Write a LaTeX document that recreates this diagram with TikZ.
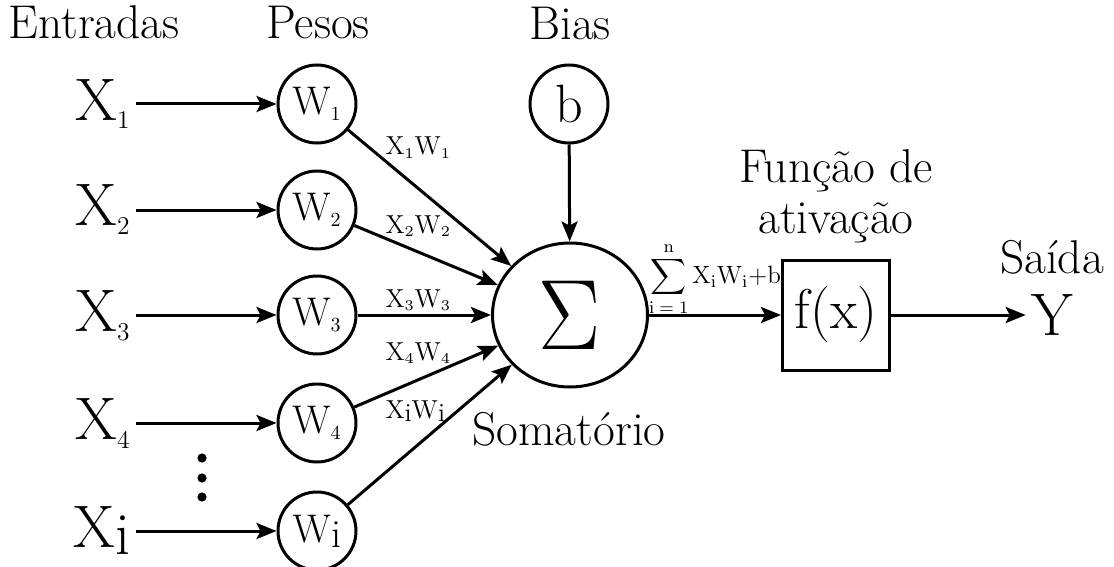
\RequirePackage{fix-cm}
\documentclass[tikz,border=0pt]{standalone}
\usepackage{amsmath,amssymb}
\usepackage{graphicx}
\usepackage{tikz}
\usetikzlibrary{arrows.meta,shapes.geometric}

% indice: i quase do tamanho normal, numeros bem pequenos
\newcommand{\ind}[2]{\if i#2\mbox{\raisebox{-0.12em}{i}}\else_{\scalebox{#1}{$\scriptscriptstyle#2$}}\fi}

\begin{document}
\begin{tikzpicture}[x=0.5pt,y=-0.5pt,line width=1.5pt,
  seta/.style={-{Stealth[length=10pt,width=8pt,inset=2pt]}},
  peso/.style={draw,circle,minimum size=39pt,inner sep=0pt,font=\fontsize{20}{22}\selectfont},
  titulo/.style={font=\fontsize{23.7}{25}\selectfont,anchor=base},
  entrada/.style={font=\fontsize{30}{32}\selectfont,anchor=base east,inner sep=2pt},
  prod/.style={font=\fontsize{13}{15}\selectfont,anchor=base west,inner sep=0pt}]
  \useasboundingbox (0,0) rectangle (1114,567);

  % titulos
  \node[titulo] (ent) at (94,39) {Entradas};
  \node[titulo] (pes) at (318,39) {Pesos};
  \node[titulo] (bia) at (570,40) {Bias};
  \node[titulo,align=center] (fun) at (836,233) {Função de\\ativação};
  \node[titulo] (sai) at (1052,273) {Saída};
  \node[titulo] (som) at (569,445) {Somatório};

  % somatorio, bias, ativacao e saida
  \node[draw,ellipse,minimum width=77.5pt,minimum height=72pt,inner sep=0pt] (soma) at (570,315)
    {\scalebox{0.93}[1]{\fontsize{50}{52}\selectfont$\Sigma$}};
  \node[draw,circle,minimum size=39pt,inner sep=0pt,font=\fontsize{27}{30}\selectfont] (bias) at (569,104) {b};
  \node[draw,minimum width=53.5pt,minimum height=55pt,font=\fontsize{28}{30}\selectfont] (ativ) at (836,315) {f(x)};
  \node[font=\fontsize{30}{32}\selectfont,inner sep=2pt] (saida) at (1052,315) {Y};
  \node[font=\fontsize{12.5}{14}\selectfont] (form) at (715,279)
    {$\displaystyle\sum_{\mathrm{i}\;=\;1}^{\mathrm{n}}\mathrm{X}_{\mathrm{i}}\mathrm{W}_{\mathrm{i}}{+}\mathrm{b}$};

  % entradas e pesos
  \foreach \n/\y in {1/104, 2/210, 3/315, 4/423, i/531} {
    \node[entrada] (x\n) at (136,\y+16) {$\mathrm{X}\ind{0.85}{\n}$};
    \node[peso] (w\n) at (317,\y) {$\mathrm{W}\ind{1}{\n}$};
    \draw[seta] (x\n.east |- w\n) -- (w\n);
    \draw[seta] (w\n) -- (soma);
  }
  \foreach \n/\yb in {1/155, 2/233, 3/307, 4/360, i/418}
    \node[prod] (p\n) at (384,\yb) {$\mathrm{X}\ind{1.15}{\n}\mathrm{W}\ind{1.15}{\n}$};
  \foreach \y in {458,478,497}
    \fill (202,\y) circle (2.3pt);

  \draw[seta] (bias) -- (soma);
  \draw[seta] (soma) -- (ativ);
  \draw[seta] (ativ) -- (saida);
\end{tikzpicture}
\end{document}
